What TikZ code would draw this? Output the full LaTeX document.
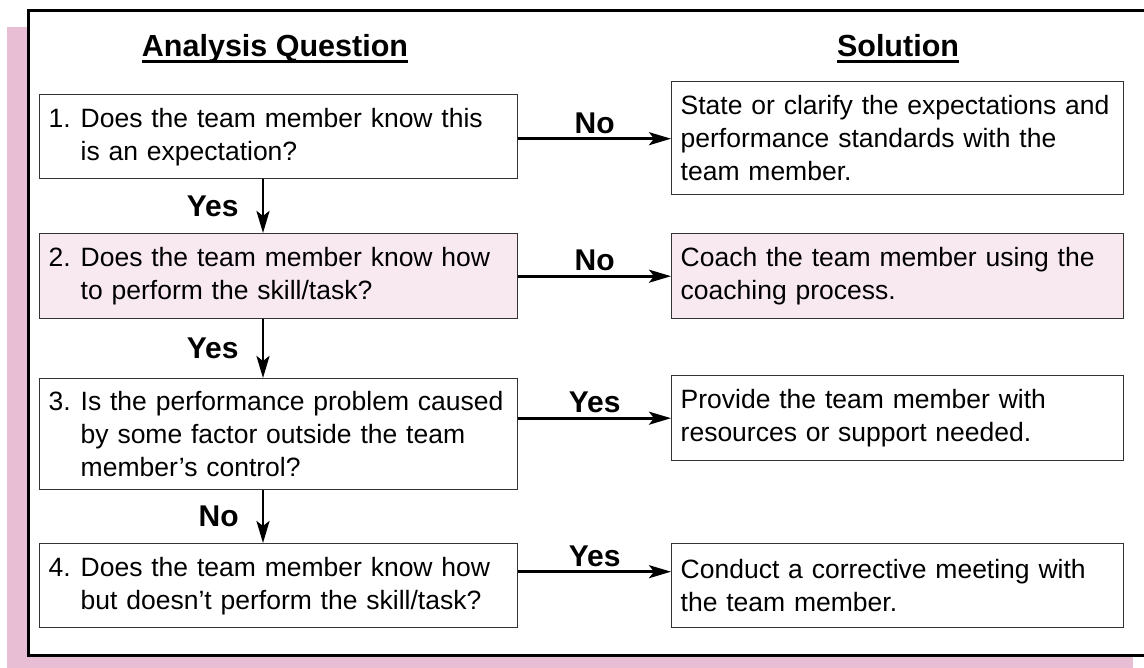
\documentclass[tikz,border=0pt]{standalone}
\usepackage{fontspec}
\setmainfont{Liberation Sans}
\usetikzlibrary{arrows.meta}

\definecolor{stripPink}{RGB}{232,190,212}
\definecolor{boxPink}{RGB}{248,233,241}

% bold heading with a rule cut through the descenders
\newcommand{\headline}[1]{\setbox0=\hbox{#1}\rlap{\rule[-6pt]{\wd0}{2.5pt}}\box0}
% numbered question: number in a fixed-width slot, later lines indented
\newcommand{\num}[1]{\makebox[32pt][l]{#1}}
\newcommand{\ind}{\hspace*{32pt}}

\begin{document}
\begin{tikzpicture}[x=1pt,y=-1pt,
  bodyfont/.style={font=\fontsize{26.5}{33}\selectfont},
  qbox/.style={draw=black!80, line width=1.4pt, fill=white, anchor=north west,
    inner xsep=9pt, inner ysep=0pt, align=left, bodyfont, text width=460pt},
  sbox/.style={qbox, text width=434pt},
  pinkbox/.style={fill=boxPink},
  headtxt/.style={font=\fontsize{30.5}{36}\selectfont\bfseries, anchor=base, inner sep=0pt},
  lbl/.style={font=\fontsize{30}{36}\selectfont\bfseries, inner sep=0pt},
  arr/.style={line width=2.8pt, -{Stealth[length=22pt,width=13pt,inset=5pt]}}
]
\useasboundingbox (0,0) rectangle (1144,668);
\clip (0,0) rectangle (1144,668);

% pink strip behind the framed panel
\fill[stripPink] (7,27) rectangle (1133,668);
\draw[line width=3pt, fill=white] (28,11) rectangle (1170,655);

% column headings
\node[headtxt] (hq) at (275,57) {\headline{Analysis Question}};
\node[headtxt] (hs) at (898,57) {\headline{Solution}};

% analysis questions
\node[qbox, minimum height=84pt] (q1) at (39,94)
  {\num{1.}Does the team member know this\\\ind is an expectation?};
\node[qbox, pinkbox, minimum height=85pt] (q2) at (39,233)
  {\num{2.}Does the team member know how\\\ind to perform the skill/task?};
\node[qbox, minimum height=111pt] (q3) at (39,378)
  {\num{3.}Is the performance problem caused\\\ind by some factor outside the team\\\ind member’s control?};
\node[qbox, minimum height=84pt] (q4) at (39,543)
  {\num{4.}Does the team member know how\\\ind but doesn’t perform the skill/task?};

% solutions
\node[sbox, minimum height=113pt] (s1) at (671,81)
  {State or clarify the expectations and\\performance standards with the\\team member.};
\node[sbox, pinkbox, minimum height=85pt] (s2) at (671,233)
  {Coach the team member using the\\coaching process.};
\node[sbox, minimum height=85pt] (s3) at (671,375)
  {Provide the team member with\\resources or support needed.};
\node[sbox, minimum height=84pt] (s4) at (671,543)
  {Conduct a corrective meeting with\\the team member.};

% question to solution connectors
\draw[arr] ([yshift=-2pt]q1.east) -- ([yshift=-2pt]q1.east -| s1.west)
  node[lbl, midway, above=4pt] (l1) {No};
\draw[arr] (q2.east) -- (s2.west)
  node[lbl, midway, above=4pt] (l2) {No};
\draw[arr] (s3.west -| q3.east) -- (s3.west)
  node[lbl, midway, above=4pt] (l3) {Yes};
\draw[arr] ([yshift=14pt]q4.east) -- ([yshift=14pt]s4.west)
  node[lbl, midway, above=4pt] (l4) {Yes};

% question to question connectors
\coordinate (vx) at (263,0);
\draw[arr] (q1.south -| vx) -- (q2.north -| vx)
  node[lbl, midway, left=23pt] (v1) {Yes};
\draw[arr] (q2.south -| vx) -- (q3.north -| vx)
  node[lbl, midway, left=23pt] (v2) {Yes};
\draw[arr] (q3.south -| vx) -- (q4.north -| vx)
  node[lbl, midway, left=23pt] (v3) {No};
\end{tikzpicture}
\end{document}
